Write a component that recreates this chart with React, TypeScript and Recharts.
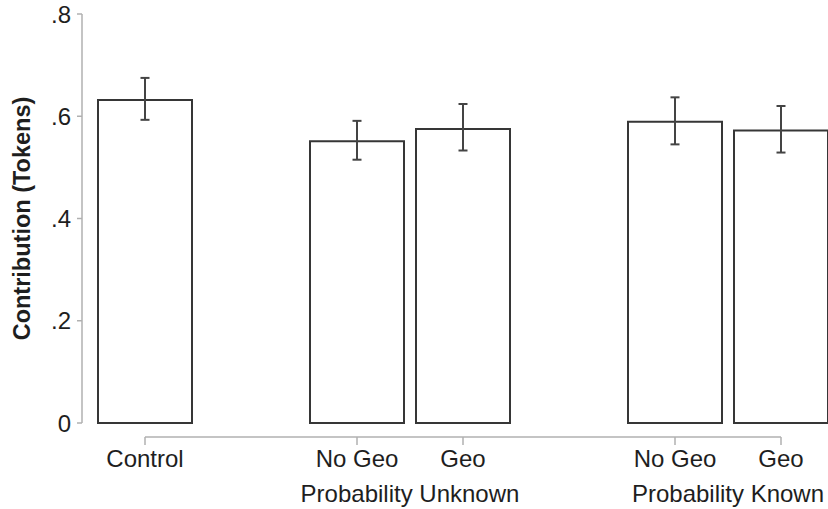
import React from 'react';
import { BarChart, Bar, XAxis, YAxis, ErrorBar } from 'recharts';

// one slot per category; the blank slots are the gaps between groups
const categories = ['control', 'gapA', 'noGeoUnknown', 'geoUnknown', 'gapB', 'noGeoKnown', 'geoKnown'];
const tickLabels = ['Control', '', 'No Geo', 'Geo', '', 'No Geo', 'Geo'];
const groupLabels = ['', '', 'Probability Unknown', '', '', 'Probability Known', ''];
const means = [0.632, null, 0.551, 0.575, null, 0.589, 0.572];
const ciLow = [0.593, null, 0.515, 0.533, null, 0.545, 0.529];
const ciHigh = [0.675, null, 0.591, 0.624, null, 0.637, 0.62];
const yTicks = [0, 0.2, 0.4, 0.6, 0.8];

const data = categories.map((cat, i) => ({
  cat,
  mean: means[i],
  err: means[i] == null ? undefined : [means[i]! - ciLow[i]!, ciHigh[i]! - means[i]!],
}));

const FONT = '"Liberation Sans", Arial, Helvetica, sans-serif';
const TEXT = '#1e1e1e';
const AXIS = '#b0b0b0';

const fmtY = (v: number) => (v === 0 ? '0' : String(v).replace(/^0/, ''));

// draws the offset x axis: its own stretch of axis line, tick mark and labels
const XTick = (props: any) => {
  const { x, y, payload } = props;
  const i = categories.indexOf(payload.value);
  const label = tickLabels[i];
  const half = payload.offset || 53;
  const x1 = i === 0 ? x : x - half;
  const x2 = i === categories.length - 1 ? x : x + half;
  return (
    <g>
      <line x1={x1} x2={x2} y1={y + 14} y2={y + 14} stroke={AXIS} strokeWidth={1.5} />
      {label ? (
        <>
          <line x1={x} x2={x} y1={y + 14} y2={y + 22} stroke={AXIS} strokeWidth={1.5} />
          <text x={x} y={y + 44} textAnchor="middle" fontSize={24} fontFamily={FONT} fill={TEXT}>
            {label}
          </text>
        </>
      ) : null}
      {groupLabels[i] ? (
        <text x={x + half} y={y + 79} textAnchor="middle" fontSize={24} fontFamily={FONT} fill={TEXT}>
          {groupLabels[i]}
        </text>
      ) : null}
    </g>
  );
};

const YLabel = (props: any) => {
  const { viewBox } = props;
  const cx = 22;
  const cy = viewBox.y + viewBox.height / 2;
  return (
    <text
      x={cx}
      y={cy}
      transform={`rotate(-90 ${cx} ${cy})`}
      textAnchor="middle"
      dominantBaseline="central"
      fontSize={23.5}
      fontWeight="bold"
      fontFamily={FONT}
      fill={TEXT}
    >
      Contribution (Tokens)
    </text>
  );
};

export default function App() {
  return (
    <div style={{ position: 'absolute', left: 0, top: 0, width: 828, height: 509, overflow: 'hidden', background: '#fff' }}>
      <BarChart
        width={834}
        height={509}
        data={data}
        margin={{ top: 14, right: 0, bottom: 0, left: 0 }}
        barCategoryGap={6}
      >
        <XAxis
          dataKey="cat"
          height={86}
          padding={{ left: 10, right: 0 }}
          axisLine={false}
          tickLine={false}
          tickSize={0}
          tickMargin={0}
          interval={0}
          tick={<XTick />}
        />
        <YAxis
          width={82}
          domain={[0, 0.8]}
          ticks={yTicks}
          tickFormatter={fmtY}
          axisLine={{ stroke: AXIS, strokeWidth: 1.5 }}
          tickLine={{ stroke: AXIS, strokeWidth: 1.5 }}
          tickSize={5}
          tickMargin={6}
          tick={{ fontSize: 24, fontFamily: FONT, fill: TEXT }}
          label={<YLabel />}
        />
        <Bar dataKey="mean" fill="#fff" stroke="#363636" strokeWidth={2} isAnimationActive={false}>
          <ErrorBar dataKey="err" direction="y" width={4.5} stroke="#444" strokeWidth={2} isAnimationActive={false} />
        </Bar>
      </BarChart>
    </div>
  );
}
